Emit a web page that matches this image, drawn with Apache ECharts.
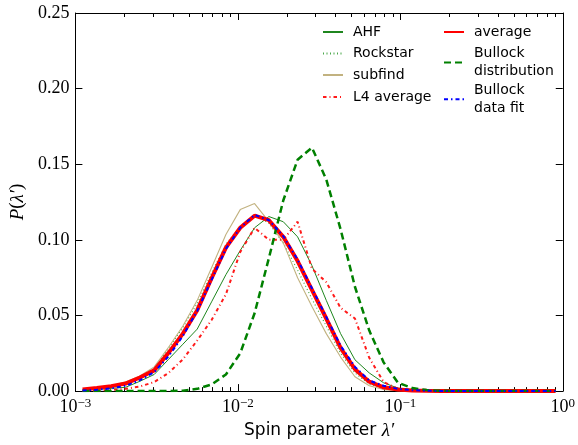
<!DOCTYPE html>
<html>
<head>
<meta charset="utf-8">
<script src="https://cdn.jsdelivr.net/npm/echarts@6/dist/echarts.min.js"></script>
<style>html,body{margin:0;padding:0;background:#fff}#c{width:578px;height:445px}</style>
</head>
<body>
<div id="c"></div>
<script>
// bin centres of the spin parameter histogram
const lam = [0.001107, 0.001356, 0.001661, 0.002035, 0.002494, 0.003056, 0.003745, 0.004588, 0.005623, 0.006890,
  0.008443, 0.010345, 0.012676, 0.015533, 0.019033, 0.023322, 0.028577, 0.035017, 0.042908, 0.052576,
  0.064424, 0.078940, 0.096730, 0.118530, 0.145240, 0.177830, 0.218000, 0.267000, 0.327100, 0.400900,
  0.491200, 0.601800, 0.737500, 0.903400];
const ahf = [0.0008,0.0012,0.0018,0.0025,0.0065,0.011,0.021,0.031,0.041,0.059,0.077,0.093,0.108,0.1154,0.112,0.102,0.083,0.060,0.038,0.0207,0.012,0.0055,0.002,0.0008,0.0003,0.0001,0,0,0,0,0,0,0,0];
const rockstar = [0.001,0.002,0.0035,0.0055,0.0095,0.015,0.028,0.042,0.058,0.078,0.097,0.109,0.1165,0.111,0.098,0.080,0.061,0.043,0.025,0.012,0.0045,0.0015,0.0005,0.0002,0.0001,0,0,0,0,0,0,0,0,0];
const subfind = [0.001,0.002,0.0035,0.006,0.010,0.016,0.029,0.043,0.060,0.0816,0.1035,0.120,0.124,0.112,0.098,0.075,0.056,0.038,0.0225,0.0095,0.0035,0.001,0.0003,0.0001,0,0,0,0,0,0,0,0,0,0];
const l4average = [0.0001,0.0003,0.0007,0.0015,0.003,0.006,0.012,0.021,0.0335,0.047,0.064,0.092,0.108,0.100,0.100,0.112,0.081,0.072,0.055,0.048,0.022,0.006,0.0015,0.0005,0.0001,0,0,0,0,0,0,0,0,0];
const average = [0.0011,0.002,0.0033,0.005,0.009,0.0137,0.0253,0.038,0.0535,0.0746,0.0949,0.108,0.116,0.113,0.102,0.086,0.067,0.048,0.0285,0.0145,0.0062,0.0025,0.001,0.0004,0.0002,0.0001,0,0,0,0,0,0,0,0];
const bullockDist = [0,0,0,0,0,0,0.0001,0.0003,0.0015,0.0044,0.011,0.025,0.0515,0.088,0.126,0.153,0.161,0.140,0.107,0.069,0.040,0.019,0.0055,0.002,0.0007,0.0002,0,0,0,0,0,0,0,0];
const bullockFit = [0.0004,0.0009,0.0018,0.0035,0.0072,0.0125,0.023,0.0365,0.053,0.0735,0.094,0.108,0.1165,0.113,0.1025,0.087,0.068,0.049,0.030,0.016,0.007,0.0035,0.0015,0.0006,0.0002,0.0001,0,0,0,0,0,0,0,0];
const xMajor = [0.001, 0.01, 0.1, 1];
const xMinor = [0.002,0.003,0.004,0.005,0.006,0.007,0.008,0.009,0.02,0.03,0.04,0.05,0.06,0.07,0.08,0.09,0.2,0.3,0.4,0.5,0.6,0.7,0.8,0.9];
const yTicks = [0, 0.05, 0.10, 0.15, 0.20, 0.25];

const pts = arr => lam.map((x, i) => [x, arr[i]]);
const chart = echarts.init(document.getElementById('c'), null, {renderer: 'canvas'});

const serif = 'Liberation Serif';
const sans = 'DejaVu Sans';
const grid = {left: 71, top: 13, right: 12, bottom: 50, containLabel: false};

function xax(pos, ticks, len, showLabel, showLine, extra) {
  return Object.assign({
    type: 'log', logBase: 10, min: 0.001, max: 1, position: pos,
    axisLine: {show: showLine, onZero: false, lineStyle: {color: '#000', width: 1}},
    axisTick: {show: true, inside: true, length: len, customValues: ticks, lineStyle: {color: '#000', width: 1}},
    axisLabel: {show: showLabel},
    splitLine: {show: false}, minorTick: {show: false}
  }, extra || {});
}

const xLabel = {
  show: true, customValues: xMajor, margin: 6,
  formatter: v => {
    const e = Math.round(Math.log10(v));
    return '{b|10}{s|' + (e < 0 ? '\u2212' + (-e) : e) + '}';
  },
  rich: {
    b: {fontFamily: serif, fontSize: 18, color: '#000', lineHeight: 20},
    s: {fontFamily: serif, fontSize: 13, color: '#000', verticalAlign: 'top', lineHeight: 14, padding: [0, 0, 6, 0]}
  }
};

const legends = [];
function addLegend(name, left, center, lines) {
  const lh = 18.4;
  legends.push({
    data: [name], left: left, top: center - lines * lh / 2, padding: 0,
    itemWidth: 20, itemHeight: 12, selectedMode: false,
    itemStyle: {opacity: 0},
    textStyle: {fontFamily: sans, fontSize: 14, color: '#000', lineHeight: lh, padding: [0, 0, 0, 5]}
  });
}
addLegend('AHF', 322, 32, 1);
addLegend('Rockstar', 322, 53.5, 1);
addLegend('subfind', 322, 75, 1);
addLegend('L4 average', 322, 97, 1);
addLegend('average', 443, 32, 1);
addLegend('Bullock\ndistribution', 443, 62.5, 2);
addLegend('Bullock\ndata fit', 443, 99.3, 2);

function line(name, data, color, width, type) {
  return {
    name: name, type: 'line', data: pts(data), xAxisIndex: 0, yAxisIndex: 0,
    symbol: 'none', showSymbol: false, smooth: false,
    lineStyle: {color: color, width: width, type: type},
    itemStyle: {color: color}, z: 2
  };
}

chart.setOption({
  animation: false,
  backgroundColor: '#fff',
  grid: grid,
  legend: legends,
  xAxis: [
    xax('bottom', xMajor, 7, true, true, {
      axisLabel: xLabel,
      name: '{t|Spin parameter }{m|\u03BB\u2032}', nameLocation: 'middle', nameGap: 25,
      nameTextStyle: {rich: {
        t: {fontFamily: sans, fontSize: 17, color: '#000'},
        m: {fontFamily: serif, fontStyle: 'italic', fontSize: 19, color: '#000'}
      }}
    }),
    xax('bottom', xMinor, 4, false, false),
    xax('top', xMajor, 7, false, true),
    xax('top', xMinor, 4, false, false)
  ],
  yAxis: [
    {
      type: 'value', min: 0, max: 0.25, interval: 0.05, position: 'left',
      axisLine: {show: true, onZero: false, lineStyle: {color: '#000', width: 1}},
      axisTick: {show: true, inside: true, length: 7, lineStyle: {color: '#000'}},
      axisLabel: {margin: 6, formatter: v => v.toFixed(2), fontFamily: serif, fontSize: 18, color: '#000'},
      splitLine: {show: false},
      name: '{i|P}{r|(}{i|\u03BB\u2032}{r|)}', nameLocation: 'middle', nameGap: 44, nameRotate: 90,
      nameTextStyle: {rich: {
        i: {fontFamily: serif, fontStyle: 'italic', fontSize: 19, color: '#000'},
        r: {fontFamily: serif, fontSize: 19, color: '#000'}
      }}
    },
    {
      type: 'value', min: 0, max: 0.25, interval: 0.05, position: 'right',
      axisLine: {show: true, onZero: false, lineStyle: {color: '#000', width: 1}},
      axisTick: {show: true, inside: true, length: 7, lineStyle: {color: '#000'}},
      axisLabel: {show: false}, splitLine: {show: false}
    }
  ],
  series: [
    line('AHF', ahf, '#1f861f', 1, 'solid'),
    line('Rockstar', rockstar, '#4aa84a', 1.2, [1, 2.5]),
    line('subfind', subfind, '#c2b280', 1.1, 'solid'),
    line('L4 average', l4average, '#ff1a1a', 2, [3.5, 3, 1, 3]),
    line('average', average, '#ff0000', 4, 'solid'),
    line('Bullock\ndistribution', bullockDist, '#008000', 2.5, [7, 4]),
    line('Bullock\ndata fit', bullockFit, '#0000ff', 2, [4, 3, 1.5, 3])
  ]
});
</script>
</body>
</html>
